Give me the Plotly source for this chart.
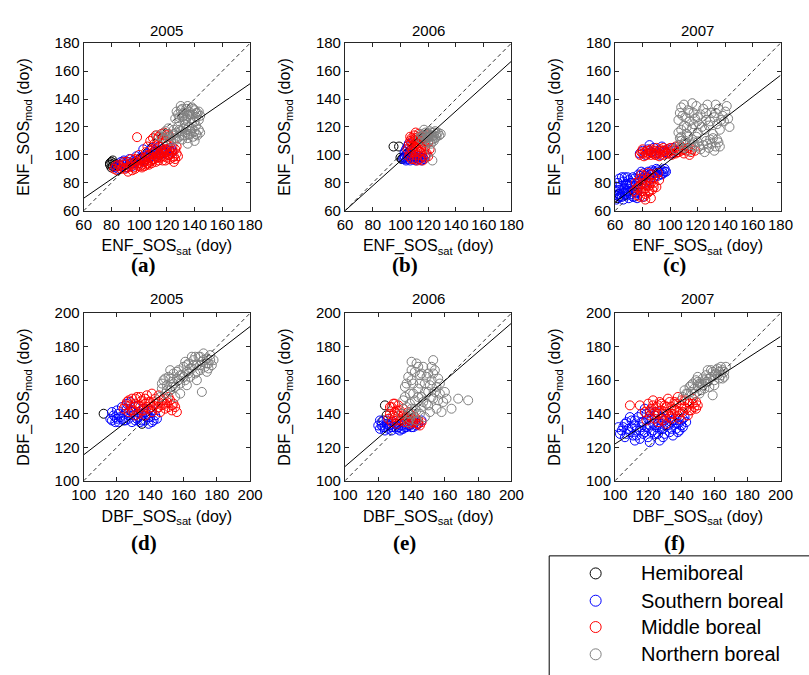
import plotly.graph_objects as go

W, H = 809, 675

# ---------------- data ----------------
YEARS = ["2005", "2006", "2007"]
PANEL_LABELS = ["(a)", "(b)", "(c)", "(d)", "(e)", "(f)"]
ZONES = ["Hemiboreal", "Southern boreal", "Middle boreal", "Northern boreal"]
ZONE_COLORS = ["#000000", "#0000ff", "#ff0000", "#808080"]

ENF_TICKS = [60, 80, 100, 120, 140, 160, 180]
DBF_TICKS = [100, 120, 140, 160, 180, 200]

# regression lines: slope, intercept per panel (a..f)
FIT_SLOPE = [0.683, 0.892, 0.758, 0.765, 0.855, 0.64]
FIT_INTERCEPT = [28.0, 6.5, 20.5, 39.0, 23.0, 58.0]

ENF05_hemi = [(79, 93), (80, 95), (81, 92), (82, 94), (80, 91), (83, 93), (79, 94), (81, 96)]
ENF05_south = [(83, 91), (85, 90), (86, 93), (87, 92), (88, 94), (90, 91), (91, 93), (92, 95), (94, 94), (95, 92),
               (96, 96), (97, 95), (99, 96), (100, 94), (101, 98), (102, 97), (104, 96), (105, 99), (106, 101),
               (107, 98), (108, 100), (110, 99), (111, 102), (112, 101), (113, 103), (115, 100), (116, 104),
               (117, 103), (118, 101), (120, 104), (121, 100), (122, 103), (124, 102), (103, 104), (109, 105),
               (114, 106), (89, 96), (93, 97), (98, 99),
               (84, 92), (87, 95), (91, 91), (96, 94), (100, 97), (104, 99), (108, 103), (112, 104), (116, 101),
               (119, 102), (123, 105)]
ENF05_mid = [(82, 90), (84, 89), (85, 93), (86, 92), (88, 91), (89, 93), (90, 90), (91, 95), (93, 92), (94, 94),
             (95, 89), (96, 93), (97, 97), (98, 95), (99, 92), (100, 97), (101, 96), (102, 93), (103, 98), (104, 95),
             (105, 97), (106, 94), (107, 100), (108, 98), (109, 96), (110, 101), (111, 97), (112, 99), (113, 102),
             (114, 100), (115, 98), (116, 103), (117, 101), (118, 99), (119, 104), (120, 102), (121, 100), (122, 104),
             (123, 101), (124, 103), (125, 99), (127, 101), (126, 104), (125, 95), (92, 88), (97, 90), (102, 91),
             (107, 93), (112, 95), (117, 96), (122, 97), (100, 100), (105, 102), (110, 104), (115, 106), (120, 107),
             (108, 110), (110, 112), (112, 114), (114, 113), (116, 115), (118, 116), (120, 114), (122, 113),
             (113, 111), (117, 112), (121, 115), (98.5, 112.7), (111, 108), (106, 106),
             (83, 92), (87, 90), (89, 95), (92, 91), (94, 97), (96, 91), (99, 94), (101, 92), (103, 95), (105, 93),
             (106, 99), (108, 95), (110, 97), (111, 103), (113, 98), (115, 101), (116, 99), (118, 103), (120, 98),
             (122, 100), (124, 98), (126, 97), (128, 99), (119, 96), (114, 96), (109, 94), (104, 92), (117, 108),
             (119, 110), (124, 106), (127, 106)]
ENF05_north = [(126, 126), (128, 129), (129, 124), (130, 132), (131, 127), (132, 130), (133, 125), (134, 133),
               (135, 128), (136, 131), (137, 126), (138, 134), (139, 129), (140, 132), (141, 127), (142, 130),
               (143, 125), (144, 128), (130, 135), (135, 135), (140, 124), (127, 131), (133, 122), (138, 123),
               (129, 127), (131, 133), (134, 126), (136, 129), (139, 133), (141, 130), (143, 131), (137, 129),
               (132, 128),
               (118, 112), (120, 115), (122, 111), (124, 114), (125, 118), (126, 112), (127, 116), (128, 120),
               (129, 113), (130, 117), (131, 111), (132, 119), (133, 114), (134, 118), (135, 112), (136, 120),
               (137, 115), (138, 119), (139, 113), (140, 117), (141, 121), (142, 114), (143, 118), (144, 116),
               (123, 110), (113, 114), (116, 113), (121, 119), (135, 108), (140, 110),
               (119, 117), (121, 113), (125, 115), (129, 118), (133, 116), (137, 117), (141, 115), (131, 114),
               (127, 111), (135, 115)]

ENF06_hemi = [(101, 97), (100, 98), (102, 98), (95, 106), (99, 106)]
ENF06_south = [(102, 97), (103, 99), (104, 96), (105, 98), (106, 100), (107, 96), (108, 98), (109, 97), (110, 99),
               (111, 96), (112, 98), (113, 97), (114, 99), (115, 96), (116, 98), (117, 97), (103, 102), (104, 104),
               (105, 106), (106, 108), (107, 103), (104, 100), (105, 101), (108, 101), (118, 100),
               (103, 98), (105, 97), (107, 99), (109, 99), (111, 98), (113, 99), (115, 98)]
ENF06_mid = [(105, 104), (106, 107), (107, 110), (107, 113), (108, 105), (108, 109), (109, 111), (109, 102),
             (110, 106), (110, 114), (111, 108), (111, 100), (112, 111), (112, 104), (113, 107), (113, 115),
             (114, 102), (114, 110), (115, 105), (115, 113), (116, 108), (116, 99), (117, 111), (117, 103),
             (118, 106), (119, 114), (119, 101), (120, 109), (121, 104), (106, 99), (108, 97), (110, 97), (112, 96),
             (114, 97), (116, 96), (118, 98), (120, 99), (111, 116), (113, 113), (109, 107),
             (107, 101), (108, 112), (110, 110), (112, 108), (114, 106), (116, 112), (118, 110), (120, 113),
             (109, 104), (111, 112)]
ENF06_north = [(114, 112), (115, 115), (116, 111), (117, 114), (118, 116), (119, 112), (120, 115), (121, 113),
               (122, 116), (123, 111), (124, 114), (125, 117), (126, 113), (127, 116), (128, 114), (129, 115),
               (120, 110), (124, 110), (118, 109), (122, 108), (122, 103), (123, 96), (117, 118), (121, 117),
               (125, 112), (116, 114), (118, 113), (120, 113), (122, 114), (124, 116), (126, 115), (119, 115),
               (123, 113)]

ENF07_hemi = [(61, 71), (62, 69), (63, 72)]
ENF07_south = [(61, 68), (62, 72), (63, 75), (64, 70), (64, 78), (65, 73), (66, 81), (66, 68), (67, 76), (68, 71),
               (68, 79), (69, 74), (70, 82), (70, 69), (71, 77), (72, 72), (72, 80), (73, 75), (74, 83), (74, 70),
               (75, 78), (76, 73), (77, 81), (78, 85), (79, 79), (80, 83), (81, 87), (82, 80), (83, 84), (84, 88),
               (85, 82), (86, 86), (87, 89), (88, 84), (89, 87), (90, 90), (91, 85), (92, 88), (93, 86), (94, 89),
               (95, 87), (96, 90), (97, 88), (65, 84), (69, 84), (62, 80), (67, 84), (60, 75), (76, 69), (80, 70),
               (62, 77), (63, 70), (65, 70), (66, 76), (67, 72), (69, 79), (70, 73), (71, 80), (73, 70), (73, 84),
               (75, 73), (77, 86), (79, 88), (82, 85), (85, 86), (88, 88), (91, 89), (94, 86), (96, 88), (63, 83),
               (68, 74),
               (78, 101), (80, 103), (82, 100), (84, 104), (86, 102), (88, 105), (90, 101), (92, 103), (94, 106),
               (96, 102), (98, 104), (100, 101), (102, 105), (104, 103), (85, 107), (93, 100)]
ENF07_mid = [(74, 74), (75, 80), (76, 71), (77, 77), (78, 83), (79, 74), (80, 79), (81, 70), (81, 85), (82, 76),
             (83, 81), (84, 73), (84, 87), (85, 78), (86, 83), (87, 75), (87, 86), (88, 80), (89, 84), (90, 77),
             (91, 87), (82, 68), (78, 70), (86, 69), (92, 82),
             (76, 76), (78, 78), (80, 74), (82, 72), (83, 78), (85, 74), (86, 80), (88, 77), (80, 82), (84, 83),
             (79, 86),
             (78, 100), (79, 102), (80, 101), (81, 99), (82, 102), (83, 100), (84, 101), (85, 103), (86, 100),
             (87, 102), (88, 101), (89, 103), (90, 100), (91, 102), (92, 101), (93, 104), (94, 102), (95, 100),
             (96, 103), (97, 101), (98, 104), (99, 102), (100, 105), (101, 103), (102, 101), (103, 104), (104, 106),
             (105, 102), (106, 104), (107, 107), (108, 103), (109, 105), (110, 101), (112, 103), (114, 100),
             (115, 102), (95, 105), (90, 105),
             (80, 104), (83, 103), (86, 104), (89, 100), (92, 99), (95, 103), (98, 101), (101, 100), (104, 101),
             (106, 102), (110, 104), (113, 105), (116, 104), (118, 103)]
ENF07_north = [(104, 104), (106, 107), (108, 110), (110, 105), (112, 108), (114, 103), (116, 111), (118, 106),
               (120, 109), (122, 104), (124, 107), (126, 110), (128, 105), (130, 108), (132, 103), (134, 111),
               (136, 106), (107, 112), (113, 113), (119, 113), (125, 102), (131, 112),
               (108, 113), (111, 110), (115, 107), (117, 109), (121, 106), (127, 108), (133, 106), (135, 109),
               (129, 111), (110, 108), (106, 116),
               (106, 125), (107, 130), (108, 118), (108, 134), (110, 121), (111, 127), (112, 115), (113, 132),
               (114, 124), (116, 119), (117, 130), (118, 126), (119, 135), (120, 116), (121, 122), (122, 129),
               (124, 133), (125, 118), (126, 125), (127, 136), (128, 121), (130, 130), (131, 115), (132, 127),
               (134, 122), (135, 133), (136, 118), (138, 128), (139, 124), (140, 131), (142, 126), (143, 120),
               (110, 136), (116, 137), (133, 136),
               (109, 128), (112, 120), (114, 130), (117, 122), (120, 127), (123, 120), (126, 130), (129, 124),
               (133, 130), (137, 125), (141, 135)]

DBF05_hemi = [(112, 140), (135, 134)]
DBF05_south = [(116, 137), (118, 139), (119, 135), (120, 142), (122, 138), (123, 144), (124, 136), (125, 140),
               (126, 146), (127, 137), (128, 142), (129, 135), (130, 139), (131, 144), (132, 137), (133, 141),
               (134, 135), (135, 139), (136, 143), (137, 136), (138, 140), (139, 134), (140, 138), (141, 142),
               (142, 136), (143, 139), (144, 137), (121, 135), (117, 141), (128, 147),
               (117, 136), (119, 138), (121, 140), (123, 137), (125, 136), (127, 139), (129, 141), (131, 136),
               (133, 138), (135, 136), (137, 141), (139, 138), (141, 135), (126, 143), (120, 137)]
DBF05_mid = [(124, 143), (126, 147), (127, 141), (128, 145), (129, 149), (130, 142), (131, 146), (132, 150),
             (133, 140), (134, 144), (135, 148), (136, 142), (137, 146), (138, 151), (139, 143), (140, 147),
             (141, 141), (142, 145), (143, 149), (144, 143), (145, 147), (146, 141), (147, 145), (148, 149),
             (149, 143), (150, 147), (151, 144), (152, 148), (153, 142), (154, 146), (155, 144), (156, 141),
             (137, 139), (131, 139), (145, 151), (141, 152),
             (125, 145), (127, 148), (129, 142), (131, 149), (133, 145), (135, 142), (137, 149), (139, 147),
             (141, 144), (143, 146), (145, 144), (147, 148), (149, 146), (151, 150), (153, 145), (134, 150),
             (138, 144)]
DBF05_north = [(146, 150), (147, 155), (148, 160), (149, 152), (150, 157), (151, 162), (152, 154), (153, 159),
               (154, 164), (155, 156), (156, 161), (157, 166), (158, 158), (159, 163), (160, 168), (161, 160),
               (162, 165), (163, 170), (164, 162), (165, 167), (166, 172), (167, 164), (168, 169), (169, 174),
               (170, 166), (171, 171), (172, 176), (173, 168), (174, 173), (175, 170), (176, 175), (177, 169),
               (178, 172), (171, 153), (149, 161), (158, 152), (165, 174), (152, 166), (162, 157), (168, 160),
               (174, 165), (155, 150),
               (150, 154), (152, 161), (154, 158), (156, 165), (158, 163), (160, 162), (162, 169), (164, 167),
               (166, 169), (168, 165), (170, 169), (172, 172), (174, 170), (176, 172), (161, 171), (157, 160),
               (153, 156), (147, 158), (163, 164), (167, 174), (170, 174), (175, 167)]

DBF06_hemi = [(124, 145), (123, 136), (125, 139)]
DBF06_south = [(120, 133), (121, 131), (122, 135), (123, 132), (124, 130), (125, 134), (126, 131), (127, 133),
               (128, 130), (129, 135), (130, 132), (131, 131), (132, 134), (133, 130), (134, 133), (135, 131),
               (136, 134), (137, 132), (138, 135), (139, 133), (140, 134), (141, 132), (142, 135), (144, 134),
               (146, 136), (121, 136),
               (122, 133), (124, 132), (126, 133), (128, 132), (130, 134), (132, 132), (134, 131), (136, 132),
               (138, 133), (140, 132), (143, 133), (125, 136)]
DBF06_mid = [(126, 137), (127, 140), (128, 144), (129, 146), (130, 138), (131, 142), (132, 145), (133, 136),
             (134, 140), (135, 143), (136, 135), (137, 138), (138, 141), (139, 134), (140, 137), (141, 135),
             (142, 138), (143, 134), (144, 136), (145, 133), (146, 135), (128, 135), (131, 134), (134, 136),
             (130, 146), (127, 144),
             (129, 139), (130, 141), (132, 139), (133, 142), (135, 139), (136, 137), (138, 137), (139, 140),
             (140, 135), (142, 136), (144, 134), (131, 136)]
DBF06_north = [(134, 140), (135, 148), (136, 156), (137, 144), (138, 162), (138, 135), (139, 152), (140, 166),
               (141, 140), (141, 158), (142, 148), (143, 170), (143, 136), (144, 155), (145, 163), (146, 144),
               (146, 150), (147, 168), (148, 158), (148, 138), (149, 146), (150, 164), (150, 153), (151, 141),
               (152, 160), (153, 149), (154, 166), (155, 143), (155, 156), (157, 152), (158, 141), (159, 147),
               (160, 153), (161, 149), (164, 143), (168, 149), (174, 148), (140, 171), (153, 172), (156, 161),
               (142, 143), (145, 140),
               (136, 150), (137, 158), (139, 146), (140, 160), (141, 152), (142, 165), (143, 142), (144, 150),
               (145, 158), (146, 164), (147, 147), (148, 153), (149, 162), (150, 145), (151, 157), (152, 150),
               (153, 164), (154, 153), (156, 148), (157, 158), (138, 140), (140, 143), (152, 168), (144, 168),
               (139, 137)]

DBF07_hemi = []
DBF07_south = [(102, 132), (104, 130), (106, 134), (107, 128), (108, 131), (110, 136), (111, 127), (112, 133),
               (113, 130), (114, 138), (115, 125), (116, 132), (117, 135), (118, 129), (119, 140), (120, 126),
               (121, 133), (122, 137), (123, 130), (124, 128), (125, 141), (126, 134), (127, 131), (128, 138),
               (129, 126), (130, 136), (131, 133), (132, 140), (133, 129), (134, 135), (135, 127), (136, 137),
               (137, 131), (138, 134), (139, 130), (140, 136), (141, 132), (142, 138), (143, 135), (118, 143),
               (112, 124), (121, 123), (127, 124),
               (103, 128), (105, 132), (107, 135), (109, 129), (110, 132), (112, 136), (113, 127), (115, 130),
               (116, 135), (117, 128), (119, 132), (120, 137), (122, 129), (123, 134), (124, 139), (125, 132),
               (126, 128), (128, 134), (129, 131), (130, 128), (131, 137), (132, 133), (134, 131), (135, 136),
               (137, 134), (138, 129), (140, 133), (141, 137), (106, 126), (109, 138), (116, 140), (121, 141)]
DBF07_mid = [(109, 145), (115, 145), (118, 141), (120, 146), (121, 139), (122, 143), (123, 148), (124, 137),
             (125, 144), (126, 140), (127, 147), (128, 142), (129, 136), (130, 145), (131, 141), (132, 149),
             (133, 138), (134, 144), (135, 140), (136, 147), (137, 142), (138, 150), (139, 137), (140, 145),
             (141, 141), (142, 148), (143, 143), (144, 139), (145, 146), (146, 142), (147, 149), (148, 144),
             (149, 147), (150, 145), (126, 135), (131, 134), (119, 136),
             (121, 142), (123, 145), (124, 141), (126, 145), (128, 146), (129, 140), (131, 144), (133, 147),
             (134, 140), (136, 143), (137, 146), (139, 141), (140, 148), (142, 144), (144, 147), (145, 142),
             (147, 146), (149, 143), (128, 137), (134, 137), (138, 139)]
DBF07_north = [(141, 150), (142, 154), (144, 152), (145, 156), (146, 153), (147, 158), (148, 155), (149, 160),
               (150, 156), (151, 152), (152, 158), (153, 161), (154, 155), (155, 163), (156, 159), (157, 156),
               (158, 162), (159, 165), (160, 160), (161, 164), (162, 167), (163, 161), (164, 163), (165, 166),
               (166, 162), (167, 168), (159, 151), (150, 162), (156, 166), (160, 157),
               (143, 152), (146, 157), (148, 152), (151, 158), (153, 157), (155, 159), (157, 161), (158, 166),
               (160, 163), (161, 166), (163, 165), (164, 168), (165, 161), (154, 160), (152, 154), (150, 159),
               (162, 163), (166, 165)]

PANEL_DATA = [
    [ENF05_hemi, ENF05_south, ENF05_mid, ENF05_north],
    [ENF06_hemi, ENF06_south, ENF06_mid, ENF06_north],
    [ENF07_hemi, ENF07_south, ENF07_mid, ENF07_north],
    [DBF05_hemi, DBF05_south, DBF05_mid, DBF05_north],
    [DBF06_hemi, DBF06_south, DBF06_mid, DBF06_north],
    [DBF07_hemi, DBF07_south, DBF07_mid, DBF07_north],
]

# ---------------- layout geometry (pixels) ----------------
COL_X = [(73, 245), (343, 515), (622, 793)]
ROW_Y = [(35, 207), (312, 484)]
TITLE_Y = [22, 297]
LABEL_Y = [263, 548]
FONT = "Liberation Sans, Arial, sans-serif"
AXCOL = "#262626"

fig = go.Figure()
layout = dict(width=W, height=H, margin=dict(l=0, r=0, t=0, b=0),
              paper_bgcolor="white", plot_bgcolor="white", showlegend=False,
              annotations=[], shapes=[])

for i in range(6):
    row, col = divmod(i, 3)
    ax = "" if i == 0 else str(i + 1)
    pft = "ENF" if row == 0 else "DBF"
    ticks = ENF_TICKS if row == 0 else DBF_TICKS
    lo, hi = ticks[0], ticks[-1]
    x0, x1 = COL_X[col]
    y0, y1 = ROW_Y[row]
    common = dict(range=[lo, hi], tickvals=ticks, ticks="inside", ticklen=4, tickcolor=AXCOL,
                  showline=True, linecolor=AXCOL, linewidth=1, mirror="ticks",
                  showgrid=False, zeroline=False,
                  tickfont=dict(family=FONT, size=15, color="black"))
    layout["xaxis" + ax] = dict(common, domain=[x0 / W, x1 / W], anchor="y" + ax,
                                title=dict(text=pft + "_SOS<sub>sat</sub> (doy)",
                                           font=dict(family=FONT, size=16, color="black"), standoff=8))
    layout["yaxis" + ax] = dict(common, domain=[1 - y1 / H, 1 - y0 / H], anchor="x" + ax,
                                title=dict(text=pft + "_SOS<sub>mod</sub> (doy)",
                                           font=dict(family=FONT, size=16, color="black"), standoff=21))
    for g, pts in enumerate(PANEL_DATA[i]):
        if not pts:
            continue
        fig.add_trace(go.Scatter(
            x=[p[0] for p in pts], y=[p[1] for p in pts], mode="markers",
            xaxis="x" + ax, yaxis="y" + ax, name=ZONES[g], hoverinfo="skip",
            marker=dict(symbol="circle-open", size=9, color=ZONE_COLORS[g], line=dict(width=1))))
    # 1:1 line
    fig.add_trace(go.Scatter(x=[lo, hi], y=[lo, hi], mode="lines", xaxis="x" + ax, yaxis="y" + ax,
                             line=dict(color="black", width=0.8, dash="4px,3px"), hoverinfo="skip"))
    # regression line
    fig.add_trace(go.Scatter(x=[lo, hi], y=[FIT_INTERCEPT[i] + FIT_SLOPE[i] * lo, FIT_INTERCEPT[i] + FIT_SLOPE[i] * hi],
                             mode="lines", xaxis="x" + ax, yaxis="y" + ax,
                             line=dict(color="black", width=1), hoverinfo="skip"))
    cx = (x0 + x1) / 2 / W
    layout["annotations"].append(dict(text=YEARS[col], x=cx, y=1 - TITLE_Y[row] / H, xref="paper", yref="paper",
                                      xanchor="center", yanchor="middle", showarrow=False,
                                      font=dict(family=FONT, size=15, color="black")))
    layout["annotations"].append(dict(text="<b>" + PANEL_LABELS[i] + "</b>", x=((x0 + x1) / 2 - 24) / W,
                                      y=1 - LABEL_Y[row] / H, xref="paper", yref="paper", showarrow=False,
                                      xanchor="center", yanchor="middle",
                                      font=dict(family="Liberation Serif, Times New Roman, serif", size=21,
                                                color="black")))

# ---------------- manual legend ----------------
LEG_X0, LEG_Y0 = 554, 561
layout["shapes"].append(dict(type="rect", xref="paper", yref="paper", x0=LEG_X0 / W, x1=1.05,
                             y0=-0.05, y1=1 - LEG_Y0 / H, line=dict(color="black", width=1),
                             fillcolor="rgba(0,0,0,0)", layer="above"))
row_y = [579, 607, 634, 662]
layout["xaxis7"] = dict(domain=[(LEG_X0 + 1) / W, 1], range=[LEG_X0 + 1, W], visible=False, anchor="y7",
                        fixedrange=True)
layout["yaxis7"] = dict(domain=[0, 1 - (LEG_Y0 + 1) / H], range=[H, LEG_Y0 + 1], visible=False, anchor="x7",
                        fixedrange=True)
fig.add_trace(go.Scatter(x=[602] * 4, y=row_y, mode="markers", xaxis="x7", yaxis="y7", hoverinfo="skip",
                         marker=dict(symbol="circle-open", size=11, color=ZONE_COLORS, line=dict(width=1))))
for g, name in enumerate(ZONES):
    layout["annotations"].append(dict(text=name, x=647 / W, y=1 - row_y[g] / H, xref="paper", yref="paper",
                                      xanchor="left", yanchor="middle", showarrow=False,
                                      font=dict(family=FONT, size=20, color="black")))

fig.update_layout(**layout)
fig.write_html("out.html")
